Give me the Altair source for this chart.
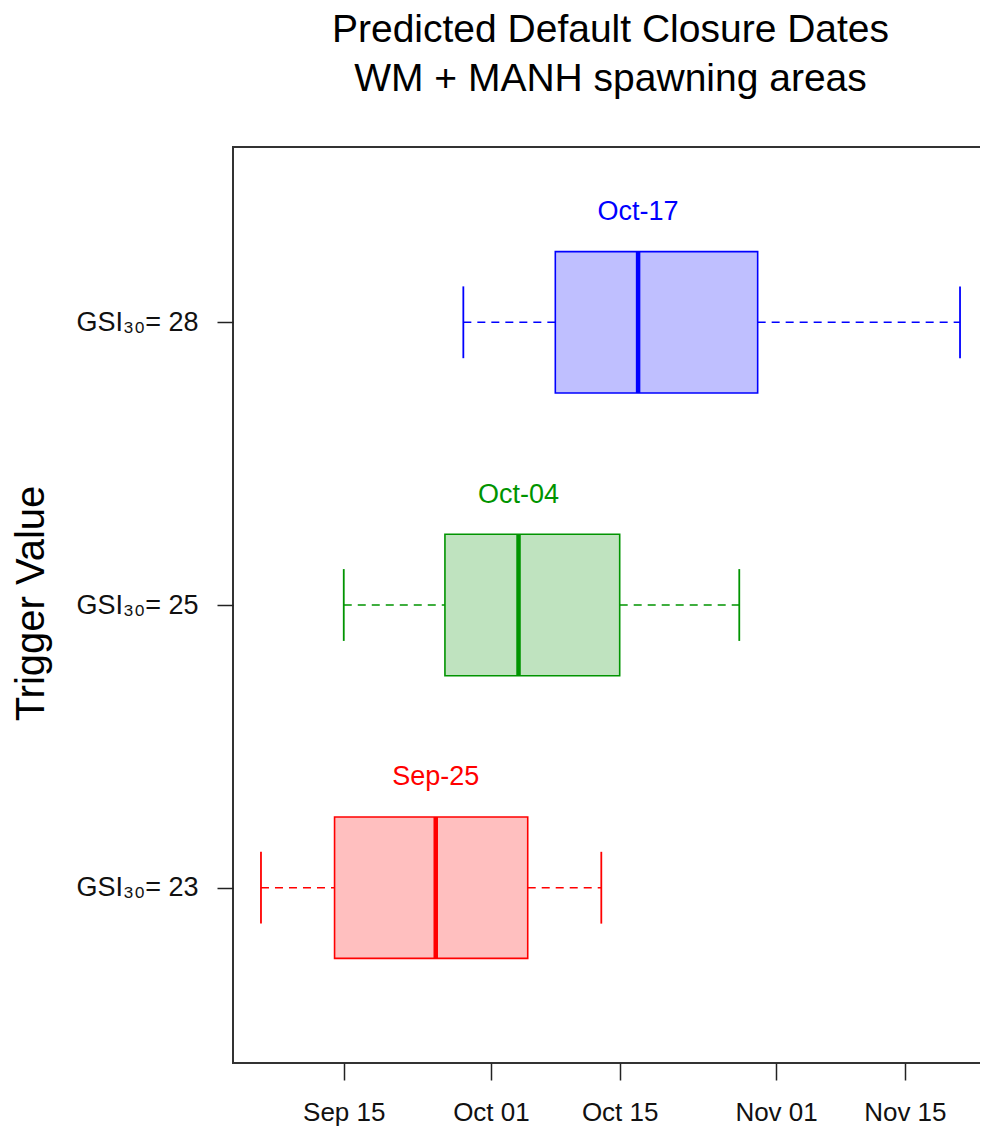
import altair as alt
import pandas as pd

# ---- data ----
groups = ["GSI30=23", "GSI30=25", "GSI30=28"]
positions = [1, 2, 3]
tick_labels = ["GSI\u2083\u2080= 23", "GSI\u2083\u2080= 25", "GSI\u2083\u2080= 28"]
low = ["2021-09-06", "2021-09-15", "2021-09-28"]
q1 = ["2021-09-14", "2021-09-26", "2021-10-08"]
median = ["2021-09-25", "2021-10-04", "2021-10-17"]
q3 = ["2021-10-05", "2021-10-15", "2021-10-30"]
high = ["2021-10-13", "2021-10-28", "2021-11-21"]
median_labels = ["Sep-25", "Oct-04", "Oct-17"]
line_colors = ["#FF0000", "#009400", "#0000FF"]
fill_colors = ["#FFBFBF", "#BFE3BF", "#BFBFFF"]

df = pd.DataFrame({
    "grp": groups, "pos": positions, "low": low, "q1": q1, "med": median,
    "q3": q3, "high": high, "label": median_labels,
    "col": line_colors, "fil": fill_colors,
})

FONT = "Liberation Sans"

xscale = alt.Scale(
    type="utc",
    domain=[alt.DateTime(year=2021, month=9, date=2, hours=23, utc=True),
            alt.DateTime(year=2021, month=11, date=24, hours=1, utc=True)],
)
xticks = [alt.DateTime(year=2021, month=m, date=d, utc=True)
          for m, d in [(9, 15), (10, 1), (10, 15), (11, 1), (11, 15)]]
yscale = alt.Scale(domain=[0.38, 3.62], nice=False, zero=False)

label_expr = " : ".join(
    f"datum.value == {p} ? '{t}'" for p, t in zip(positions, tick_labels)
) + " : ''"

xaxis = alt.Axis(values=xticks, labelExpr="utcFormat(datum.value, '%b %d')",
                 title=None, grid=False, domain=False, tickSize=17,
                 tickColor="#222", tickWidth=1.5, labelFont=FONT,
                 labelFontSize=26, labelColor="#111", labelPadding=19,
                 labelBaseline="top")
yaxis = alt.Axis(values=positions, labelExpr=label_expr, title="Trigger Value",
                 grid=False, domain=False, tickSize=16, tickColor="#222",
                 tickWidth=1.5, labelFont=FONT, labelFontSize=27,
                 labelColor="#111", labelPadding=19, labelBaseline="middle",
                 titleFont=FONT, titleFontSize=40, titleFontWeight="normal",
                 titleColor="#000", titleAngle=270, titleX=-202, titleY=456,
                 titleAlign="center", titleBaseline="middle")

base = alt.Chart(df).transform_calculate(
    blo="datum.pos - 0.25", bhi="datum.pos + 0.25",
    clo="datum.pos - 0.127", chi="datum.pos + 0.127",
    lpos="datum.pos + 0.39",
)

col = alt.Color("col:N", scale=None)

whisk_lo = base.mark_rule(strokeDash=[8, 6], strokeWidth=1.5).encode(
    x=alt.X("low:T", scale=xscale, axis=xaxis),
    x2="q1:T",
    y=alt.Y("pos:Q", scale=yscale, axis=yaxis),
    color=col,
)
whisk_hi = base.mark_rule(strokeDash=[8, 6], strokeWidth=1.5).encode(
    x=alt.X("q3:T", scale=xscale), x2="high:T",
    y=alt.Y("pos:Q", scale=yscale), color=col,
)
cap_lo = base.mark_rule(strokeWidth=1.8).encode(
    x=alt.X("low:T", scale=xscale), y=alt.Y("clo:Q", scale=yscale),
    y2="chi:Q", color=col,
)
cap_hi = base.mark_rule(strokeWidth=1.8).encode(
    x=alt.X("high:T", scale=xscale), y=alt.Y("clo:Q", scale=yscale),
    y2="chi:Q", color=col,
)
box = base.mark_rect(strokeWidth=1.6).encode(
    x=alt.X("q1:T", scale=xscale), x2="q3:T",
    y=alt.Y("blo:Q", scale=yscale), y2="bhi:Q",
    fill=alt.Fill("fil:N", scale=None),
    stroke=alt.Stroke("col:N", scale=None),
)
med = base.mark_rule(strokeWidth=4.5).encode(
    x=alt.X("med:T", scale=xscale), y=alt.Y("blo:Q", scale=yscale),
    y2="bhi:Q", color=col,
)
txt = base.mark_text(font=FONT, fontSize=27, baseline="middle", align="center").encode(
    x=alt.X("med:T", scale=xscale), y=alt.Y("lpos:Q", scale=yscale),
    text="label:N", color=col,
)

chart = alt.layer(whisk_lo, whisk_hi, cap_lo, cap_hi, box, med, txt).properties(
    width=755, height=916,
    background="white",
    autosize=alt.AutoSizeParams(type="none"),
    padding={"left": 225, "top": 139, "right": -8, "bottom": 64},
    title=alt.TitleParams(
        text=["Predicted Default Closure Dates", "WM + MANH spawning areas"],
        font=FONT, fontSize=39, fontWeight="normal", color="#000",
        anchor="middle", frame="group", lineHeight=49, offset=9,
        baseline="bottom",
    ),
).configure_view(stroke="#333", strokeWidth=2)

chart.save("out.html", embed_options={"renderer": "svg", "actions": False})
